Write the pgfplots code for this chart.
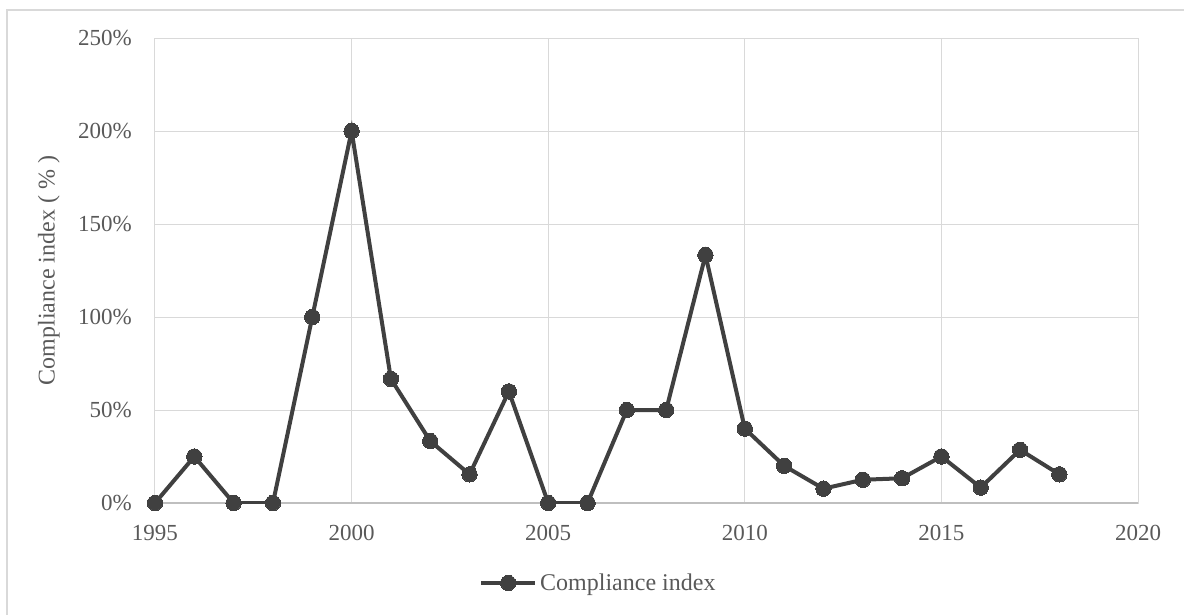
\documentclass[border=0pt]{standalone}
\usepackage{fontspec}
\setmainfont{Liberation Serif}
\usepackage{pgfplots}
\pgfplotsset{compat=1.18}
\definecolor{txt}{HTML}{595959}
\definecolor{ln}{HTML}{404040}
\definecolor{grd}{HTML}{D9D9D9}
\definecolor{base}{HTML}{BFBFBF}
\newcommand{\tickfont}{\fontsize{23}{27}\selectfont}
\newcommand{\labfont}{\fontsize{24}{28}\selectfont}

\begin{document}
\begin{tikzpicture}[x=1pt,y=1pt]
\useasboundingbox (0,0) rectangle (1184,614);
\draw[grd, line width=1.5pt] (7,-5) -- (7,604) -- (1190,604);
\begin{axis}[
  at={(155pt,111pt)}, anchor=south west,
  scale only axis, width=983pt, height=465pt,
  xmin=1995, xmax=2020, ymin=0, ymax=250,
  xtick={1995,2000,...,2020}, ytick={0,50,...,250},
  major tick length=0pt,
  grid=major, major grid style={grd, line width=1pt},
  axis line style={grd, line width=1pt},
  tick label style={txt, font=\tickfont},
  /pgf/number format/assume math mode=true,
  /pgf/number format/1000 sep={},
  yticklabel={\pgfmathprintnumber{\tick}\%},
  xticklabel style={anchor=center, yshift=-30pt},
  yticklabel style={anchor=east, inner sep=0pt, xshift=-23pt},
  ylabel={Compliance index ( \% )},
  ylabel style={txt, font=\labfont, at={(axis description cs:-0.108,0.5)}, anchor=center},
  legend style={at={(axis description cs:0.45,-0.172)}, anchor=center, draw=none, fill=none, text=txt, font=\labfont, inner sep=0pt,
    nodes={inner sep=0pt}},
  legend cell align=left,
  legend image code/.code={\draw[#1, mark repeat=2, mark phase=2] plot coordinates {(0pt,0pt) (27pt,0pt) (54pt,0pt)};},
]
\draw[base, line width=1.5pt] (axis cs:1995,0) -- (axis cs:2020,0);
\addplot[ln, line width=4pt, mark=*, mark size=7.7pt, mark options={fill=ln, draw=ln, line width=0pt}] coordinates {
(1995,0) (1996,25) (1997,0) (1998,0) (1999,100) (2000,200) (2001,66.7)
(2002,33.3) (2003,15.4) (2004,60) (2005,0) (2006,0) (2007,50) (2008,50)
(2009,133.3) (2010,40) (2011,20) (2012,7.7) (2013,12.5) (2014,13.3)
(2015,25) (2016,8.3) (2017,28.6) (2018,15.4)
};
\addlegendentry{\hspace{3pt}Compliance index}
\end{axis}
\end{tikzpicture}
\end{document}
